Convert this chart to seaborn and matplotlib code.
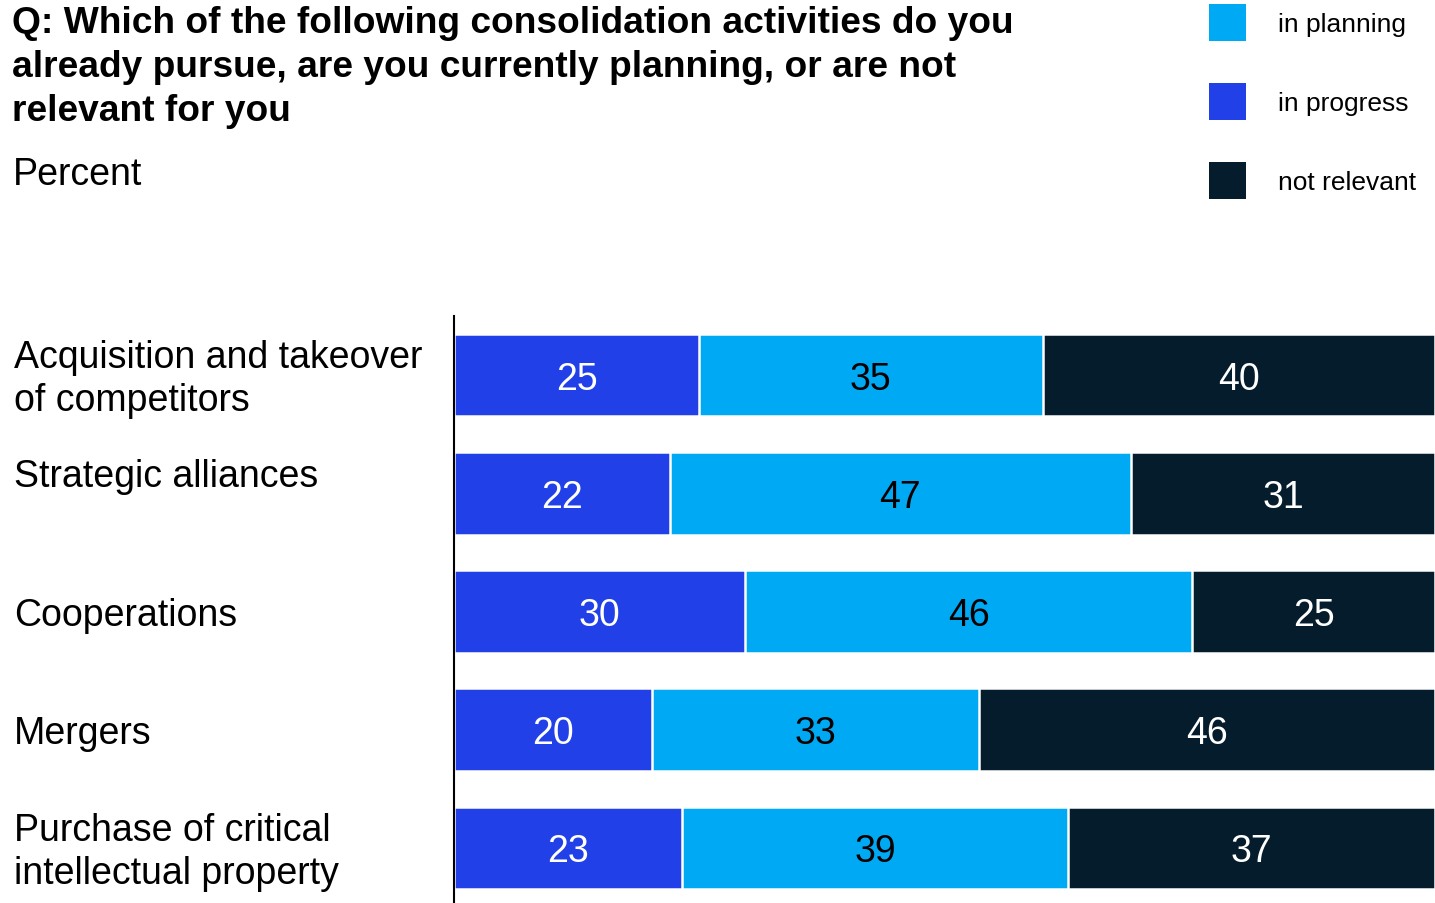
import matplotlib
matplotlib.use("Agg")
import matplotlib.pyplot as plt
import matplotlib.transforms as mtransforms
from matplotlib.patches import Patch
import numpy as np
import pandas as pd
import seaborn as sns

categories = [
    "Acquisition and takeover\nof competitors",
    "Strategic alliances",
    "Cooperations",
    "Mergers",
    "Purchase of critical\nintellectual property",
]
in_progress = [25, 22, 30, 20, 23]
in_planning = [35, 47, 46, 33, 39]
not_relevant = [40, 31, 25, 46, 37]
series_names = ["in progress", "in planning", "not relevant"]
legend_order = ["in planning", "in progress", "not relevant"]

colors = {"in progress": "#2140E8", "in planning": "#00A9F4", "not relevant": "#051C2C"}

sns.set_theme(style="white")
plt.rcParams["font.family"] = ["Liberation Sans", "DejaVu Sans"]
plt.rcParams["text.color"] = "black"

fig = plt.figure(figsize=(14.35, 9.04), dpi=100)
W, H = 1435, 904
ax = fig.add_axes([454 / W, 0, 1 - 454 / W, 1 - 317 / H])

df = pd.DataFrame({
    "category": categories,
    "in progress": in_progress,
    "in planning": in_planning,
    "not relevant": not_relevant,
})
totals = df[series_names].sum(axis=1)
shares = df[series_names].div(totals, axis=0) * 100  # bars normalised to 100 %
cum = shares.cumsum(axis=1)

# draw cumulative totals from largest to smallest (stacked look)
for name in reversed(series_names):
    sns.barplot(data=pd.DataFrame({"category": categories, "value": cum[name]}),
                x="value", y="category", orient="h", color=colors[name],
                saturation=1, width=0.70, edgecolor="white", linewidth=1.8, ax=ax)

# value labels
for i in range(len(categories)):
    start = 0
    for name in series_names:
        v = df.loc[i, name]
        s = shares.loc[i, name]
        ax.annotate(f"{v}", xy=(start + s / 2, i), xytext=(0, -2.5),
                    textcoords="offset points", ha="center", va="center",
                    color="black" if name == "in planning" else "white", fontsize=27)
        start += s

ax.set_xlim(0, 100)
ax.set_ylim(len(categories) - 1 + 0.465, -0.50)
ax.set_xlabel("")
ax.set_ylabel("")
ax.set_xticks([])
ax.set_yticks([])
for s in ["top", "right", "bottom"]:
    ax.spines[s].set_visible(False)
ax.spines["left"].set_color("black")
ax.spines["left"].set_linewidth(1.5)

# category labels
trans = mtransforms.blended_transform_factory(fig.transFigure, ax.transData)
label_offsets = {"Strategic alliances": 15}
for i, cat in enumerate(categories):
    ax.annotate(cat, xy=(14 / W, i), xycoords=trans,
                xytext=(0, label_offsets.get(cat, 0) - 2.5), textcoords="offset points",
                ha="left", va="center", fontsize=27, linespacing=1.27,
                color="black", annotation_clip=False)

# title and subtitle
fig.text(12 / W, 1 - 6 / H,
         "Q: Which of the following consolidation activities do you\n"
         "already pursue, are you currently planning, or are not\n"
         "relevant for you",
         ha="left", va="top", fontsize=26.7, fontweight="bold", linespacing=1.34)
fig.text(13 / W, 1 - 175 / H, "Percent", ha="left", va="center", fontsize=27)

# legend
handles = [Patch(facecolor=colors[n], edgecolor="none") for n in legend_order]
leg = fig.legend(handles, legend_order, loc="upper left",
                 bbox_to_anchor=(1209 / W, 1 - 5 / H), frameon=False,
                 fontsize=19, handlelength=1.4, handleheight=1.78,
                 labelspacing=1.60, handletextpad=1.2, borderpad=0, borderaxespad=0)

fig.savefig("out.png", dpi=100)
